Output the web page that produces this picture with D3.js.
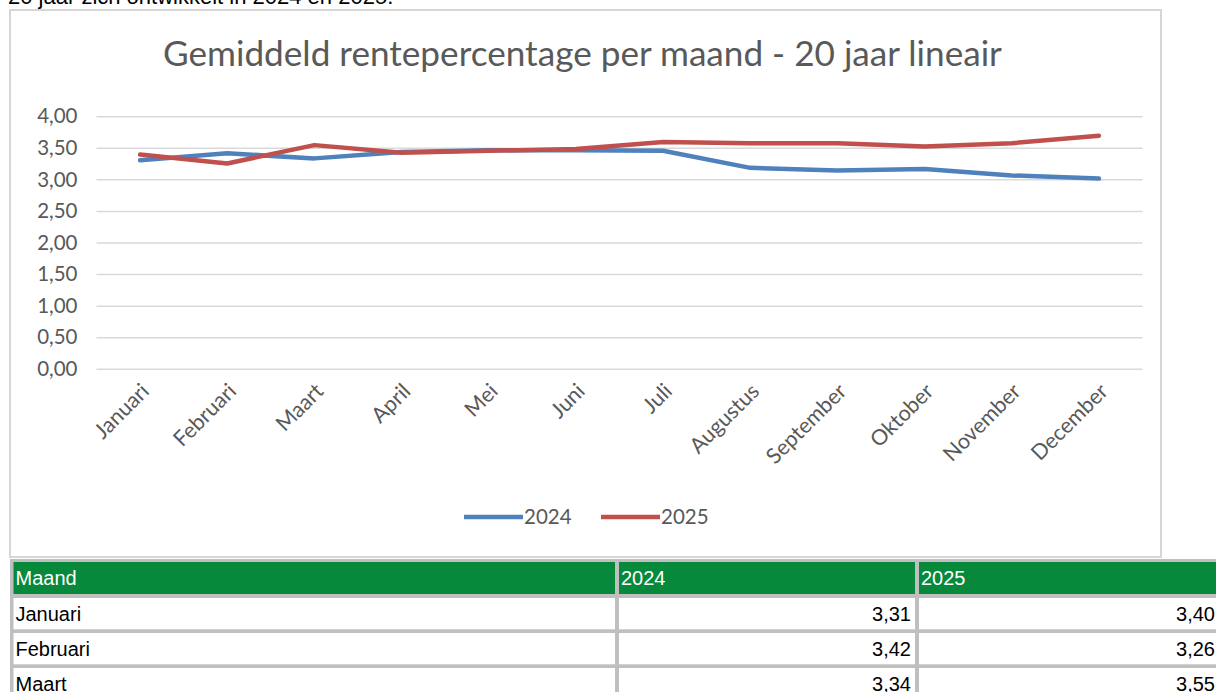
<!DOCTYPE html>
<html>
<head>
<meta charset="utf-8">
<script src="https://cdn.jsdelivr.net/npm/d3@7"></script>
<style>
  html, body { margin: 0; padding: 0; background: #fff; overflow: hidden; }
  svg { display: block; }
</style>
</head>
<body>
<svg id="chart" width="1216" height="692"></svg>
<script>
// data
const months = ['Januari', 'Februari', 'Maart', 'April', 'Mei', 'Juni', 'Juli',
  'Augustus', 'September', 'Oktober', 'November', 'December']
const rate2024 = [3.31, 3.42, 3.34, 3.44, 3.47, 3.47, 3.46, 3.19, 3.15, 3.17, 3.07, 3.02]
const rate2025 = [3.40, 3.26, 3.55, 3.43, 3.46, 3.49, 3.60, 3.58, 3.58, 3.53, 3.58, 3.70]
const yTicks = [0, 0.5, 1, 1.5, 2, 2.5, 3, 3.5, 4]
const seriesNames = ['2024', '2025']
const tableHeader = ['Maand', '2024', '2025']
const introText = '20 jaar zich ontwikkelt in 2024 en 2025.'
const chartTitle = 'Gemiddeld rentepercentage per maand - 20 jaar lineair'

const colors = ['#4f81bd', '#c0504d']
const labelColor = '#595959'
const chartFont = 'Lato, "Open Sans", sans-serif'
const docFont = '"Liberation Sans", Arial, sans-serif'

// komma als decimaalteken
const nl = d3.formatLocale({ decimal: ',', thousands: '.', grouping: [3], currency: ['€', ''] })
const fmt = nl.format('.2f')

const svg = d3.select('#chart')

// tekst boven de grafiek (deels buiten beeld, zoals in het origineel)
svg.append('text')
  .attr('x', 8)
  .attr('y', 4)
  .style('font-family', docFont)
  .style('font-size', '22px')
  .attr('fill', '#000')
  .text(introText)

// kader van de grafiek
svg.append('rect')
  .attr('x', 10)
  .attr('y', 10)
  .attr('width', 1151)
  .attr('height', 547)
  .attr('fill', '#fff')
  .attr('stroke', '#d6d6d6')
  .attr('stroke-width', 2)

// titel, breedte afgestemd op het origineel
const title = svg.append('text')
  .attr('x', 582.5)
  .attr('y', 66)
  .attr('text-anchor', 'middle')
  .style('font-family', chartFont)
  .style('font-size', '30px')
  .attr('fill', labelColor)
  .text(chartTitle)
const tw = title.node().getComputedTextLength()
title.style('font-size', (30 * 839 / tw).toFixed(2) + 'px')

// schalen
const plot = { left: 96.5, right: 1142.5, top: 116.7, bottom: 369.3 }
const x = d3.scaleBand().domain(months).range([plot.left, plot.right])
const cx = m => x(m) + x.bandwidth() / 2
const y = d3.scaleLinear().domain([0, 4]).range([plot.bottom, plot.top])

// rasterlijnen
svg.append('g')
  .selectAll('line')
  .data(yTicks)
  .enter().append('line')
  .attr('x1', plot.left)
  .attr('x2', plot.right)
  .attr('y1', d => y(d))
  .attr('y2', d => y(d))
  .attr('stroke', '#d9d9d9')
  .attr('stroke-width', 1.5)

// y-as labels
const yAxis = svg.append('g')
  .attr('transform', 'translate(77.5,0)')
  .call(d3.axisLeft(y).tickValues(yTicks).tickFormat(fmt).tickSize(0).tickPadding(0))
yAxis.select('.domain').remove()
yAxis.selectAll('text')
  .attr('dy', '0.3em')
  .attr('fill', labelColor)
  .style('font-family', chartFont)
  .style('font-size', '20.5px')

// x-as labels, schuin
const xAxis = svg.append('g')
  .attr('transform', `translate(0,${plot.bottom})`)
  .call(d3.axisBottom(x).tickSize(0).tickPadding(0))
xAxis.select('.domain').remove()
xAxis.selectAll('.tick text')
  .attr('y', 0)
  .attr('dy', '0.35em')
  .attr('text-anchor', 'end')
  .attr('transform', 'translate(5,18) rotate(-45)')
  .attr('fill', labelColor)
  .style('font-family', chartFont)
  .style('font-size', '21.5px')

// lijnen
const series = [rate2024, rate2025]
const line = d3.line()
  .x((d, i) => cx(months[i]))
  .y(d => y(d))

svg.append('g')
  .selectAll('path')
  .data(series)
  .enter().append('path')
  .attr('d', line)
  .attr('fill', 'none')
  .attr('stroke', (d, i) => colors[i])
  .attr('stroke-width', 4.5)
  .attr('stroke-linejoin', 'round')
  .attr('stroke-linecap', 'round')

// legenda
const legend = svg.append('g')
  .selectAll('g')
  .data(seriesNames)
  .enter().append('g')
  .attr('transform', (d, i) => `translate(${464 + i * 137},517)`)

legend.append('line')
  .attr('x1', 0)
  .attr('x2', 59)
  .attr('stroke', (d, i) => colors[i])
  .attr('stroke-width', 4.5)

legend.append('text')
  .attr('x', 60)
  .attr('y', 6.5)
  .attr('fill', labelColor)
  .style('font-family', chartFont)
  .style('font-size', '20.5px')
  .text(d => d)

// tabel onder de grafiek; alleen de rijen die in beeld vallen
const colX = [13.5, 619, 919]
const colW = [601.5, 296, 300]
const rowTop = i => 598 + i * 35
const rows = months.map((m, i) => [m, rate2024[i], rate2025[i]])
  .filter((d, i) => rowTop(i) < 692)

const table = svg.append('g')
table.append('rect')
  .attr('x', 10)
  .attr('y', 559)
  .attr('width', 1206)
  .attr('height', 133)
  .attr('fill', '#bfbfbf')

const header = table.append('g')
header.selectAll('rect')
  .data(tableHeader)
  .enter().append('rect')
  .attr('x', (d, i) => colX[i])
  .attr('y', 562)
  .attr('width', (d, i) => colW[i])
  .attr('height', 32)
  .attr('fill', '#06893a')
header.selectAll('text')
  .data(tableHeader)
  .enter().append('text')
  .attr('x', (d, i) => colX[i] + 2)
  .attr('y', 585)
  .attr('fill', '#fff')
  .style('font-family', docFont)
  .style('font-size', '20px')
  .text(d => d)

const tr = table.selectAll('.row')
  .data(rows)
  .enter().append('g')
  .attr('class', 'row')
  .attr('transform', (d, i) => `translate(0,${rowTop(i)})`)

tr.selectAll('rect')
  .data(d => d)
  .enter().append('rect')
  .attr('x', (d, i) => colX[i])
  .attr('width', (d, i) => colW[i])
  .attr('height', 31.3)
  .attr('fill', '#fff')

tr.selectAll('text')
  .data(d => d)
  .enter().append('text')
  .attr('x', (d, i) => i === 0 ? colX[i] + 2 : colX[i] + colW[i] - 4)
  .attr('y', 23)
  .attr('text-anchor', (d, i) => i === 0 ? 'start' : 'end')
  .attr('fill', '#000')
  .style('font-family', docFont)
  .style('font-size', '20px')
  .text(d => typeof d === 'number' ? fmt(d) : d)
</script>
</body>
</html>
